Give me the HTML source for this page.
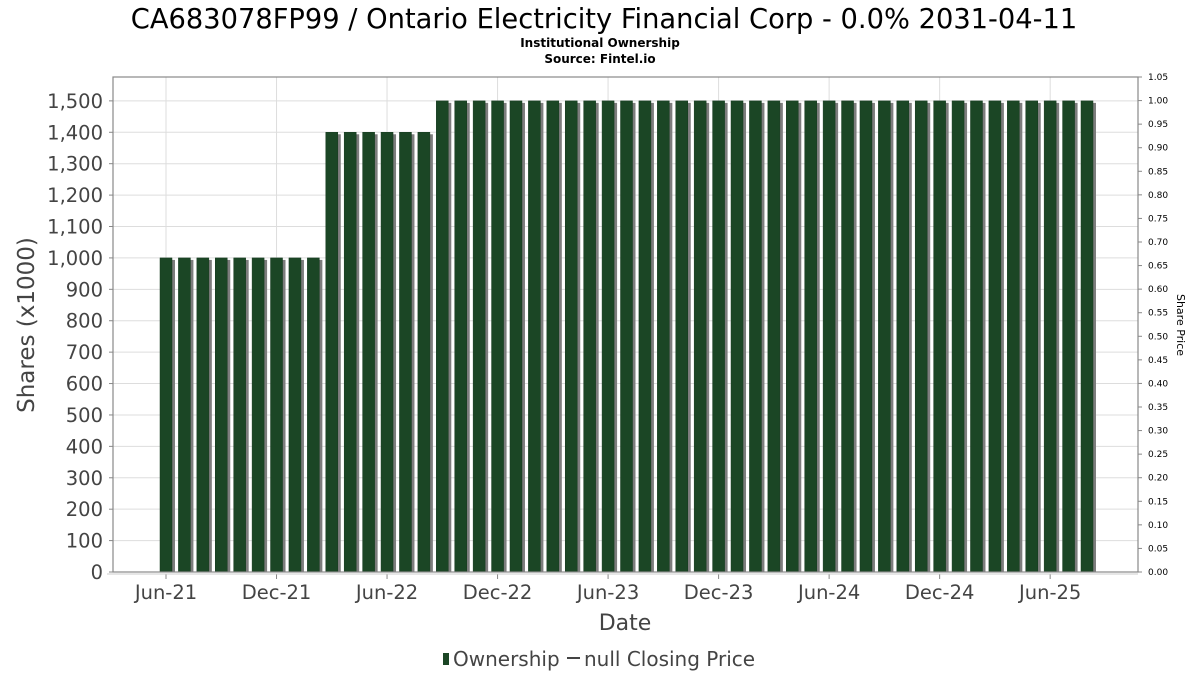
<!DOCTYPE html>
<html><head><meta charset="utf-8"><style>
body{margin:0;background:#fff;font-family:"DejaVu Sans","Liberation Sans",sans-serif}
</style></head><body>
<svg id="c" width="1200" height="675" xmlns="http://www.w3.org/2000/svg">
<text x="604" y="28" text-anchor="middle" font-size="27.3" fill="#000">CA683078FP99 / Ontario Electricity Financial Corp - 0.0% 2031-04-11</text>
<text x="600" y="47" text-anchor="middle" font-size="12" font-weight="bold" fill="#000">Institutional Ownership</text>
<text x="600" y="63" text-anchor="middle" font-size="12" font-weight="bold" fill="#000">Source: Fintel.io</text>
<g id="grid"></g><g id="bars"></g><g id="axes"></g>
<text transform="translate(34,325) rotate(-90)" text-anchor="middle" font-size="23" fill="#444">Shares (x1000)</text>
<text transform="translate(1177,325) rotate(90)" text-anchor="middle" font-size="11" fill="#000">Share Price</text>
<text x="625" y="630" text-anchor="middle" font-size="22" fill="#444">Date</text>
<g>
<rect x="443" y="653" width="6" height="12" fill="#1b4625"/>
<text x="453" y="666" font-size="20" fill="#444">Ownership</text>
<line x1="567" y1="658" x2="580" y2="658" stroke="#444" stroke-width="2"/>
<text x="584" y="666" font-size="20" fill="#444">null Closing Price</text>
</g>
</svg>
<script>
const months = 51; // Jun-21 .. Aug-25
const ownership = [1000,1000,1000,1000,1000,1000,1000,1000,1000,1400,1400,1400,1400,1400,1400,
1500,1500,1500,1500,1500,1500,1500,1500,1500,1500,1500,1500,1500,1500,1500,1500,1500,1500,1500,1500,1500,1500,1500,1500,1500,1500,1500,1500,1500,1500,1500,1500,1500,1500,1500,1500];
const yTicks = [0,100,200,300,400,500,600,700,800,900,1000,1100,1200,1300,1400,1500];
const rightTicks = ["0.00","0.05","0.10","0.15","0.20","0.25","0.30","0.35","0.40","0.45","0.50","0.55","0.60","0.65","0.70","0.75","0.80","0.85","0.90","0.95","1.00","1.05"];
const xTickLabels = ["Jun-21","Dec-21","Jun-22","Dec-22","Jun-23","Dec-23","Jun-24","Dec-24","Jun-25"];
const xTickIdx = [0,6,12,18,24,30,36,42,48];
const L=113,R=1138,T=77,B=572,yMax=1576;
const step=18.42, x0=166;
const xs=i=>x0+i*step;
const ys=v=>B-(v/yMax)*(B-T);
const NS="http://www.w3.org/2000/svg";
function mk(tag,attrs,parent,txt){const e=document.createElementNS(NS,tag);for(const k in attrs)e.setAttribute(k,attrs[k]);if(txt!==undefined)e.textContent=txt;parent.appendChild(e);return e;}
const g=document.getElementById('grid'),b=document.getElementById('bars'),a=document.getElementById('axes');
mk('rect',{x:L,y:T,width:R-L,height:B-T,fill:'#fff',stroke:'none'},g);
yTicks.forEach(v=>{const y=ys(v);
 const ln=mk('line',{x1:L,x2:R,y1:y,y2:y,stroke:'#ddd','stroke-width':1},g);
 
 const t=mk('text',{x:L-10,y:y+7,'text-anchor':'end','font-size':19.5,fill:'#444'},a,v.toLocaleString('en-US'));
 
 mk('line',{x1:L-4,x2:L,y1:y,y2:y,stroke:'#888'},a);
});
xTickIdx.forEach((idx,k)=>{const x=xs(idx);
 const ln=mk('line',{x1:x,x2:x,y1:T,y2:B,stroke:'#ddd','stroke-width':1},g);
 
 mk('line',{x1:x,x2:x,y1:B+2,y2:B+7,stroke:'#888'},a);
 const t=mk('text',{x:x,y:B+27,'text-anchor':'middle','font-size':19.5,fill:'#444'},a,xTickLabels[k]);
 
});
rightTicks.forEach((s,k)=>{const y=B-(k/21)*(B-T);
 mk('line',{x1:R,x2:R+4,y1:y,y2:y,stroke:'#888'},a);
 const t=mk('text',{x:R+10,y:y+3,'font-size':9,fill:'#000'},a,s);
 
});
ownership.forEach((v,i)=>{const x=xs(i)-6,y=ys(v),h=B-y;
 mk('rect',{x:x+3,y:y+2,width:12,height:h-2,fill:'#7d7d7d'},b);
 const r=mk('rect',{x:x,y:y,width:12,height:h,fill:'#1b4625',stroke:'#163a1f','stroke-width':0.5},b);
 
});
mk('rect',{x:L,y:T,width:R-L,height:B-T,fill:'none',stroke:'#888','stroke-width':1.2},a);
mk('line',{x1:L-6,x2:R,y1:B+2,y2:B+2,stroke:'#ccc'},a);
</script>
</body></html>
